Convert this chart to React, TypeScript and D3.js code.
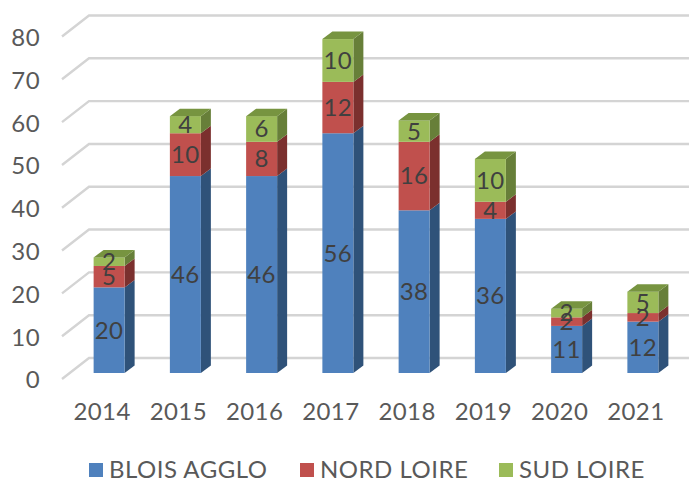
import React, { useRef, useEffect } from "react";
import * as d3 from "d3";

const years = ["2014", "2015", "2016", "2017", "2018", "2019", "2020", "2021"];
const bloisAgglo = [20, 46, 46, 56, 38, 36, 11, 12];
const nordLoire = [5, 10, 8, 12, 16, 4, 2, 2];
const sudLoire = [2, 4, 6, 10, 5, 10, 2, 5];
const seriesNames = ["BLOIS AGGLO", "NORD LOIRE", "SUD LOIRE"];
const yTicks = [0, 10, 20, 30, 40, 50, 60, 70, 80];

const frontColors = ["#4f81bd", "#c0504d", "#9bbb59"];
const sideColors = ["#2f5279", "#7b302e", "#677f39"];
const topColors = ["#3a6596", "#96403d", "#779440"];
const legendX = [89, 300, 499];

const FONT = "Lato, 'Open Sans', sans-serif";

const App = () => {
  const ref = useRef<SVGSVGElement | null>(null);

  useEffect(() => {
    const svg = d3.select(ref.current);
    svg.selectAll("*").remove();

    // front plane of the bars, the walls sit a bit further out
    const y = d3.scaleLinear().domain([0, 80]).range([373, 30.5]);
    const x = d3.scaleBand().domain(years).range([64, 674]).paddingInner(0.593).paddingOuter(0.2965);
    const depthX = 10;
    const depthY = 7.5;
    const wall = { left: 62, back: 89, right: 689, dyFront: 6, dyBack: 15 };

    // gridlines
    const grid = svg.append("g");
    yTicks.forEach((t) => {
      const yf = y(t) + wall.dyFront;
      const yb = y(t) - wall.dyBack;
      grid
        .append("path")
        .attr("d", `M${wall.left},${yf}L${wall.back},${yb}L${wall.right},${yb}`)
        .attr("fill", "none")
        .attr("stroke", "#d4d4d4")
        .attr("stroke-width", 2.4);
    });

    // y labels
    svg
      .append("g")
      .selectAll("text")
      .data(yTicks)
      .enter()
      .append("text")
      .attr("x", 40)
      .attr("y", (d) => y(d) + wall.dyFront + 1)
      .attr("dy", "0.35em")
      .attr("text-anchor", "end")
      .attr("font-family", FONT)
      .attr("font-size", 24)
      .attr("letter-spacing", 0.4)
      .attr("fill", "#595959")
      .text((d) => d);

    // x labels
    svg
      .append("g")
      .selectAll("text")
      .data(years)
      .enter()
      .append("text")
      .attr("x", (d) => x(d)! + x.bandwidth() / 2)
      .attr("y", 412)
      .attr("dy", "0.35em")
      .attr("text-anchor", "middle")
      .attr("font-family", FONT)
      .attr("font-size", 24)
      .attr("letter-spacing", 0.4)
      .attr("fill", "#595959")
      .text((d) => d);

    const rows = years.map((year, i) => ({
      year,
      a: bloisAgglo[i],
      b: nordLoire[i],
      c: sudLoire[i],
    }));
    const stacked = d3.stack<any>().keys(["a", "b", "c"])(rows);

    // bars, one column at a time, bottom segment first
    const barOffset = 7;
    const w = 31;
    const bars = svg.append("g");
    const labels = svg.append("g");
    rows.forEach((row, i) => {
      const x0 = x(row.year)! + x.bandwidth() / 2 - w / 2 + barOffset;
      stacked.forEach((layer, s) => {
        const [v0, v1] = layer[i];
        const yb = y(v0);
        const yt = y(v1);
        bars
          .append("path")
          .attr("d", `M${x0 + w},${yb}L${x0 + w + depthX},${yb - depthY}L${x0 + w + depthX},${yt - depthY}L${x0 + w},${yt}Z`)
          .attr("fill", sideColors[s]);
        bars
          .append("rect")
          .attr("x", x0)
          .attr("y", yt)
          .attr("width", w)
          .attr("height", yb - yt)
          .attr("fill", frontColors[s]);
        if (s === stacked.length - 1) {
          bars
            .append("path")
            .attr("d", `M${x0},${yt}L${x0 + depthX},${yt - depthY}L${x0 + w + depthX},${yt - depthY}L${x0 + w},${yt}Z`)
            .attr("fill", topColors[s]);
        }
        labels
          .append("text")
          .attr("x", x0 + w / 2)
          .attr("y", (yb + yt) / 2)
          .attr("dy", "0.35em")
          .attr("text-anchor", "middle")
          .attr("font-family", FONT)
          .attr("font-size", 24)
          .attr("letter-spacing", 0.4)
          .attr("fill", "#404040")
          .text(v1 - v0);
      });
    });

    // legend
    const legend = svg.append("g");
    seriesNames.forEach((name, i) => {
      legend
        .append("rect")
        .attr("x", legendX[i])
        .attr("y", 463)
        .attr("width", 14)
        .attr("height", 14)
        .attr("fill", frontColors[i]);
      legend
        .append("text")
        .attr("x", legendX[i] + 20)
        .attr("y", 470)
        .attr("dy", "0.35em")
        .attr("font-family", FONT)
        .attr("font-size", 24)
        .attr("letter-spacing", 0.5)
        .attr("fill", "#595959")
        .text(name);
    });
  }, []);

  return (
    <svg
      ref={ref}
      width={690}
      height={479}
      style={{ position: "absolute", left: 0, top: 0, background: "#fff" }}
    />
  );
};

export default App;
